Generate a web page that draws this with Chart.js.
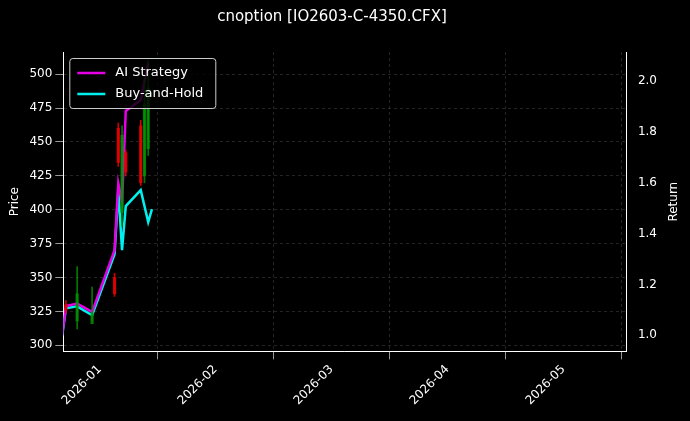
<!DOCTYPE html>
<html><head><meta charset="utf-8">
<script src="https://cdn.jsdelivr.net/npm/chart.js@4"></script>
<style>html,body{margin:0;background:#000}#wrap{width:690px;height:421px}</style>
</head><body><div id="wrap"><canvas id="c"></canvas></div>
<script>
const chartTitle = "cnoption [IO2603-C-4350.CFX]";
const lineDates = ["2025-12-22","2025-12-23","2025-12-26","2025-12-30","2026-01-05","2026-01-06","2026-01-07","2026-01-08","2026-01-12","2026-01-14","2026-01-15"];
const aiReturn = [1.0, 1.115, 1.125, 1.092, 1.335, 1.598, 1.524, 1.882, 1.925, 2.07, null];
const bhReturn = [1.0, 1.106, 1.114, 1.079, 1.319, 1.571, 1.335, 1.508, 1.571, 1.445, 1.496];
const candleDates = ["2025-12-23","2025-12-26","2025-12-30","2026-01-05","2026-01-06","2026-01-07","2026-01-08","2026-01-12","2026-01-13","2026-01-14"];
const candleOpen  = [330, 318, 316, 350, 460, 398, 442, 462, 425, 445];
const candleClose = [326, 338, 324, 338, 435, 455, 428, 420, 478, 490];
const candleHigh  = [333, 358, 343, 353, 464, 462, 444, 466, 500, 510];
const candleLow   = [324, 312, 318, 336, 432, 388, 425, 418, 420, 440];
const monthLabels = ["2026-01","2026-02","2026-03","2026-04","2026-05"];

// x position in "months since 2026-01-01"
const mx = d => {
  const [y,m,day] = d.split("-").map(Number);
  const idx = (y-2026)*12 + (m-1);
  const dim = new Date(Date.UTC(y, m, 0)).getUTCDate();
  return idx + (day-1)/dim;
};
const up = i => candleClose[i] >= candleOpen[i];
const candleColor = candleDates.map((d,i) => up(i) ? "rgba(0,150,0,0.8)" : "rgba(230,0,0,0.9)");

const extras = {
  id: "extras",
  afterDraw(chart){
    const {ctx, chartArea:a} = chart;
    const x = a.left + 6, y = a.top + 6, w = 146, h = 50;
    ctx.save();
    ctx.fillStyle = "rgba(0,0,0,0.8)"; ctx.strokeStyle = "#ccc"; ctx.lineWidth = 1;
    ctx.beginPath(); ctx.roundRect(x+0.5, y+0.5, w, h, 3); ctx.fill(); ctx.stroke();
    [["AI Strategy","#e600e6"],["Buy-and-Hold","#00f0f0"]].forEach((it,k) => {
      const yy = y + 15 + k*21;
      ctx.strokeStyle = it[1]; ctx.lineWidth = 2.5;
      ctx.beginPath(); ctx.moveTo(x+8, yy); ctx.lineTo(x+36, yy); ctx.stroke();
      ctx.fillStyle = "#fff"; ctx.font = "13px 'DejaVu Sans'"; ctx.textBaseline = "middle";
      ctx.fillText(it[0], x+46, yy);
    });
    ctx.translate(a.right + 47, (a.top + a.bottom)/2);
    ctx.rotate(-Math.PI/2);
    ctx.textAlign = "center"; ctx.font = "12px 'DejaVu Sans'"; ctx.fillText("Return", 0, 0);
    ctx.restore();
  }
};

Chart.defaults.color = "#fff";
Chart.defaults.font.family = "'DejaVu Sans'";
const grid = {color:"rgba(110,110,110,0.55)", tickColor:"#fff", lineWidth:0.6};
const border = {color:"#fff", dash:[3,3]};
new Chart(document.getElementById("c"), {
  data: {
    datasets: [
      {type:"bar", yAxisID:"y", data:candleDates.map((d,i)=>({x:mx(d), y:[candleLow[i], candleHigh[i]]})), backgroundColor:candleColor, barThickness:1, grouped:false},
      {type:"bar", yAxisID:"y", data:candleDates.map((d,i)=>({x:mx(d), y:[candleOpen[i], candleClose[i]]})), backgroundColor:candleColor, barThickness:2.5, grouped:false},
      {type:"line", yAxisID:"y2", data:lineDates.map((d,i)=>({x:mx(d), y:aiReturn[i]})), borderColor:"#e600e6", borderWidth:2.5, pointRadius:0, tension:0},
      {type:"line", yAxisID:"y2", data:lineDates.map((d,i)=>({x:mx(d), y:bhReturn[i]})), borderColor:"#00f0f0", borderWidth:2.5, pointRadius:0, tension:0}
    ]
  },
  options: {
    responsive:true, maintainAspectRatio:false, animation:false,
    layout:{padding:{left:4, right:30, top:4, bottom:10}},
    plugins:{
      legend:{display:false}, tooltip:{enabled:false},
      title:{display:true, text:chartTitle, font:{size:15, weight:"normal"}, padding:{top:4, bottom:26}}
    },
    scales:{
      x:{type:"linear", min:-0.313, max:4.548, offset:false,
        afterBuildTicks: s => { s.ticks = [0,1,2,3,4].map(v => ({value:v})); },
        ticks:{callback:v => monthLabels[Math.round(v)] || "", maxRotation:45, minRotation:45, font:{size:12}, autoSkip:false},
        grid:grid, border:border},
      y:{position:"left", min:295.5, max:516.4, afterBuildTicks: s => { s.ticks = [300,325,350,375,400,425,450,475,500].map(v=>({value:v})); },
        ticks:{font:{size:12}}, grid:grid, border:border,
        title:{display:true, text:"Price", font:{size:12}}},
      y2:{position:"right", min:0.937, max:2.114, afterBuildTicks: s => { s.ticks = [1.0,1.2,1.4,1.6,1.8,2.0].map(v=>({value:v})); },
        ticks:{font:{size:12}, callback:v=>v.toFixed(1)}, grid:{display:false, tickColor:"#fff"}, border:{color:"#fff"}}
    }
  },
  plugins:[extras]
});
</script></body></html>
